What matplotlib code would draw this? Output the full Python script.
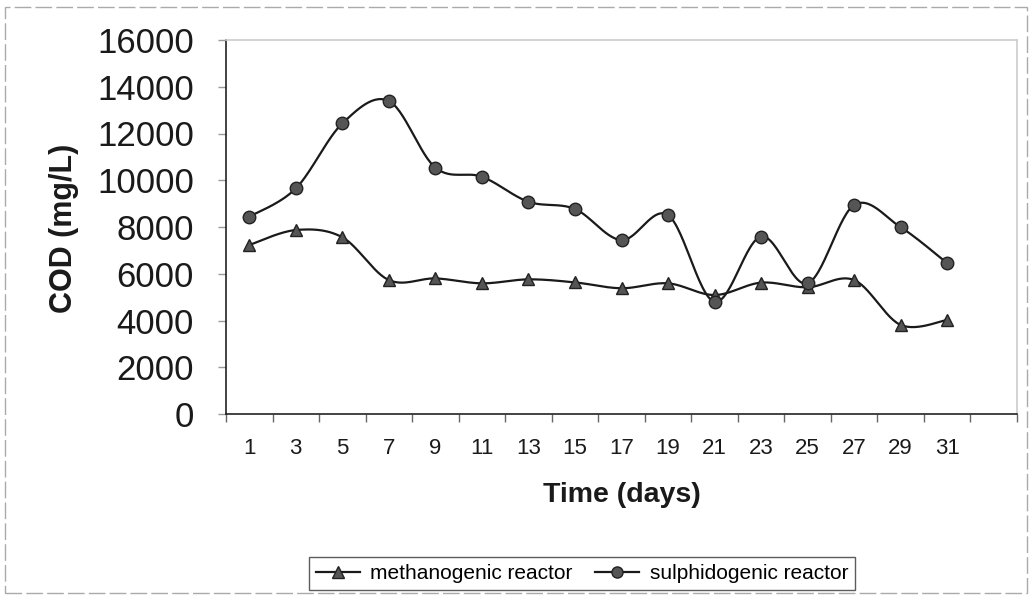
import numpy as np
import matplotlib
matplotlib.use("Agg")
import matplotlib.pyplot as plt
from matplotlib.patches import Rectangle
from matplotlib.lines import Line2D

days = ["1", "3", "5", "7", "9", "11", "13", "15", "17", "19", "21", "23", "25", "27", "29", "31", ""]
methanogenic = [7230, 7870, 7560, 5730, 5800, 5590, 5760, 5630, 5380, 5590, 5090, 5620, 5420, 5730, 3810, 4020]
sulphidogenic = [8440, 9650, 12430, 13390, 10540, 10150, 9080, 8770, 7440, 8510, 4800, 7590, 5590, 8940, 7990, 6450]

plt.rcParams['font.family'] = ['Liberation Sans', 'DejaVu Sans']


def smooth(x, y, n=30):
    # Catmull-Rom style Bezier smoothing (as in spreadsheet "smoothed line")
    x = np.asarray(x, float)
    y = np.asarray(y, float)
    P = np.column_stack([x, y])
    out = []
    for i in range(len(P) - 1):
        p0 = P[i - 1] if i > 0 else P[i]
        p1 = P[i]
        p2 = P[i + 1]
        p3 = P[i + 2] if i + 2 < len(P) else P[i + 1]
        c1 = p1 + (p2 - p0) / 6.0
        c2 = p2 - (p3 - p1) / 6.0
        t = np.linspace(0, 1, n, endpoint=(i == len(P) - 2))[:, None]
        seg = ((1 - t) ** 3) * p1 + 3 * ((1 - t) ** 2) * t * c1 + 3 * (1 - t) * t ** 2 * c2 + t ** 3 * p2
        out.append(seg)
    out = np.vstack(out)
    return out[:, 0], out[:, 1]


W, H = 1032, 598
L, R, T, B = 226, 1017, 40, 414
fig = plt.figure(figsize=(W / 100, H / 100), dpi=100)
ax = fig.add_axes([L / W, 1 - B / H, (R - L) / W, (B - T) / H])

xm = np.arange(len(methanogenic))
xs = np.arange(len(sulphidogenic))

sx, sy = smooth(xm, methanogenic)
ax.plot(sx, sy, color='#1a1a1a', lw=1.6, zorder=3)
ax.plot(xm, methanogenic, ls='none', marker='^', ms=9, mfc='#555555', mec='#222222', mew=1, zorder=4)

sx, sy = smooth(xs, sulphidogenic)
ax.plot(sx, sy, color='#1a1a1a', lw=1.6, zorder=3)
ax.plot(xs, sulphidogenic, ls='none', marker='o', ms=9, mfc='#555555', mec='#222222', mew=1, zorder=4)

ax.set_xlim(-0.5, len(days) - 0.5)
ax.set_ylim(0, 16000)
ax.set_yticks(np.arange(0, 16001, 2000))
ax.tick_params(axis='y', labelsize=25, length=6, width=1, color='#999999', pad=17, labelcolor='#1a1a1a')

ax.set_xticks(np.arange(len(days)))
ax.set_xticklabels(days)
ax.set_xticks(np.arange(-0.5, len(days), 1.0), minor=True)
ax.tick_params(axis='x', which='major', length=0, labelsize=16, pad=17, labelcolor='#1a1a1a')
ax.tick_params(axis='x', which='minor', length=6, width=1, color='#666666')

for s in ['left', 'bottom']:
    ax.spines[s].set_color('#222222')
    ax.spines[s].set_linewidth(1.2)
for s in ['top', 'right']:
    ax.spines[s].set_color('#cccccc')
    ax.spines[s].set_linewidth(1.2)

ax.set_ylabel('COD (mg/L)', fontsize=22, fontweight='bold', color='#1a1a1a')
ax.yaxis.set_label_coords((79 - L) / (R - L), 0.497)
fig.text((L + R) / 2 / W, 1 - 495 / H, 'Time (days)', fontsize=20.5, fontweight='bold',
         ha='center', va='center', color='#1a1a1a')

handles = [
    Line2D([], [], color='#1a1a1a', lw=1.6, marker='^', ms=8, mfc='#555555', mec='#222222'),
    Line2D([], [], color='#1a1a1a', lw=1.6, marker='o', ms=8, mfc='#555555', mec='#222222'),
]
leg = fig.legend(handles, ['methanogenic reactor', 'sulphidogenic reactor'], loc='center',
                 bbox_to_anchor=(582 / W, 1 - 573.5 / H), ncol=2, fontsize=15, frameon=True,
                 fancybox=False, edgecolor='#333333', handlelength=2.1, handletextpad=0.5,
                 columnspacing=1.1, borderpad=0.35)
leg.get_frame().set_linewidth(1.0)

fig.patches.append(Rectangle((5 / W, 5 / H), 1 - 10 / W, 1 - 12 / H, transform=fig.transFigure,
                             fill=False, edgecolor='#aaaaaa', lw=1.0, ls=(0, (12, 3))))

fig.savefig('out.png', dpi=100)
